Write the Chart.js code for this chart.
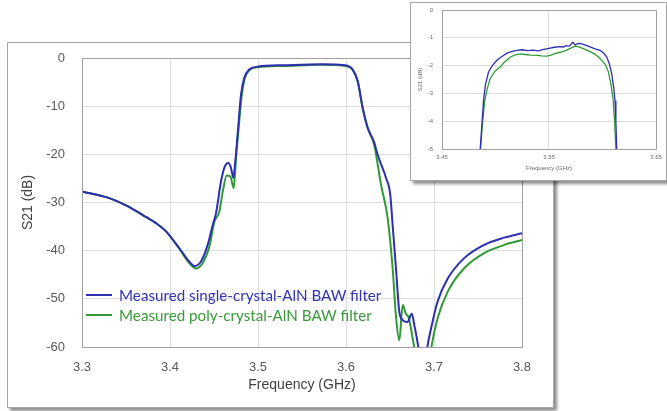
<!DOCTYPE html>
<html>
<head>
<meta charset="utf-8">
<script src="https://cdn.jsdelivr.net/npm/chart.js@4.4.1/dist/chart.umd.min.js"></script>
<style>
  html, body { margin: 0; padding: 0; background: #ffffff; }
  body { width: 667px; height: 411px; position: relative; overflow: hidden; }
  .box { position: absolute; background: #fff; border: 1px solid #a6a6a6; box-shadow: 3px 3px 3px rgba(0,0,0,0.45); }
  #mainBox { left: 7px; top: 42px; width: 545px; height: 364px; }
  #insetBox { left: 410px; top: 2px; width: 255px; height: 177px; }
  canvas { position: absolute; left: 0; top: 0; }
  .leg { position: absolute; font-family: Lato, "Open Sans", sans-serif; font-size: 15.2px; white-space: nowrap; line-height: 20px; }
  .legLine { position: absolute; height: 2px; }
</style>
</head>
<body>
<div class="box" id="mainBox"><canvas id="mainChart" width="545" height="364"></canvas></div>
<div class="box" id="insetBox"><canvas id="insetChart" width="255" height="177"></canvas></div>
<div class="legLine" id="leg1Line" style="left:86px; top:294px; width:26px; background:#2e2eb0;"></div>
<div class="leg" id="leg1" style="left:119px; top:285px; color:#3333b3;"></div>
<div class="legLine" id="leg2Line" style="left:86px; top:314px; width:26px; background:#2f9a35;"></div>
<div class="leg" id="leg2" style="left:119px; top:305px; color:#3a9a3a;"></div>
<script>
// ---------- DATA ----------
const seriesNames = ['Measured single-crystal-AlN BAW filter', 'Measured poly-crystal-AlN BAW filter'];

const mainFreqSingle = [3.300,3.331,3.350,3.369,3.385,3.3955,3.4106,3.422,3.4276,3.435,3.4428,3.4485,3.4523,3.458,3.4617,3.4663,3.4693,3.472,3.4742,3.477,3.4807,3.4844,3.490,3.4996,3.530,3.5716,3.598,3.6076,3.6133,3.619,3.6247,3.632,3.636,3.6455,3.6503,3.653,3.6568,3.6606,3.6644,3.670,3.6747,3.6777,3.6822,3.687,3.692,3.6966,3.704,3.7156,3.734,3.757,3.780,3.800];
const mainS21Single  = [-27.7,-29.1,-30.6,-32.6,-34.4,-36.0,-39.5,-42.3,-43.2,-42.3,-38.8,-34.7,-32.2,-25.6,-22.8,-21.8,-22.8,-24.9,-21.5,-15.5,-7.6,-4.1,-2.4,-1.8,-1.5,-1.3,-1.5,-2.4,-4.8,-10.4,-14.5,-17.5,-20.1,-24.9,-28.4,-34.7,-43.7,-52.7,-54.4,-54.8,-53.1,-55.5,-60.1,-68,-60.5,-56.2,-50.6,-45.8,-41.6,-38.8,-37.3,-36.4];

const mainFreqPoly = [3.300,3.331,3.350,3.369,3.385,3.3955,3.4106,3.422,3.4295,3.437,3.4447,3.4504,3.456,3.460,3.4644,3.4686,3.4724,3.475,3.478,3.4815,3.485,3.4905,3.500,3.530,3.5716,3.598,3.6076,3.6133,3.619,3.6247,3.632,3.6398,3.6474,3.653,3.657,3.6606,3.6644,3.668,3.671,3.6795,3.690,3.6966,3.704,3.7156,3.734,3.757,3.780,3.800];
const mainS21Poly  = [-27.7,-29.1,-30.6,-32.6,-34.4,-36.0,-39.6,-42.6,-43.7,-42.6,-39.2,-34.0,-31.9,-27.7,-24.4,-24.6,-27.0,-20.8,-14.5,-7.8,-4.2,-2.5,-1.9,-1.65,-1.4,-1.6,-2.5,-4.9,-10.5,-14.6,-18.0,-26.3,-33.3,-43.7,-54.1,-58.6,-51.3,-53.1,-53.8,-62,-70,-60.5,-54.1,-48.5,-43.7,-40.5,-38.8,-37.8];

const insetFreqSingle = [3.4850,3.4857,3.4875,3.4888,3.4905,3.4935,3.497,3.5013,3.505,3.5107,3.515,3.520,3.525,3.530,3.535,3.540,3.545,3.550,3.555,3.560,3.5635,3.566,3.569,3.5722,3.5745,3.577,3.580,3.584,3.5884,3.593,3.5977,3.601,3.604,3.6065,3.6086,3.6105,3.6117,3.6125,3.6133,3.614];
const insetS21Single  = [-6.0,-5.0,-4.0,-3.26,-2.7,-2.23,-2.0,-1.81,-1.7,-1.55,-1.5,-1.45,-1.43,-1.46,-1.44,-1.47,-1.42,-1.38,-1.34,-1.32,-1.33,-1.28,-1.30,-1.16,-1.26,-1.20,-1.21,-1.26,-1.33,-1.40,-1.45,-1.55,-1.69,-1.95,-2.29,-2.8,-3.26,-4.0,-5.0,-6.0];

const insetFreqPoly = [3.4853,3.486,3.488,3.490,3.4925,3.495,3.4995,3.5044,3.509,3.5137,3.518,3.523,3.528,3.533,3.5387,3.543,3.548,3.552,3.556,3.5604,3.565,3.570,3.5744,3.578,3.582,3.587,3.5915,3.596,3.5993,3.603,3.6055,3.608,3.610,3.6113,3.6125,3.6132];
const insetS21Poly  = [-6.0,-5.0,-4.0,-3.26,-2.8,-2.47,-2.2,-2.05,-1.85,-1.7,-1.62,-1.58,-1.6,-1.62,-1.63,-1.65,-1.66,-1.62,-1.56,-1.52,-1.47,-1.38,-1.30,-1.33,-1.39,-1.47,-1.56,-1.68,-1.81,-1.98,-2.23,-2.7,-3.26,-4.0,-5.0,-6.0];

const mainXTicks = [3.3, 3.4, 3.5, 3.6, 3.7, 3.8];
const mainYTicks = [-60, -50, -40, -30, -20, -10, 0];
const insetXTicks = [3.45, 3.55, 3.65];
const insetXTickLabels = ['3.45', '3.55', '3.65'];
const insetYTicks = [-5, -4, -3, -2, -1, 0];

const axisTitleX = 'Frequency (GHz)';
const axisTitleY = 'S21 (dB)';

const colSingle = '#2e2eb0';
const colPoly = '#2f9a35';

// ---------- HELPERS ----------
function pts(xs, ys) { return xs.map((x, i) => ({ x: x, y: ys[i] })); }

const frame = {
  id: 'frame',
  afterDatasetsDraw(chart, args, opts) {
    const a = chart.chartArea, c = chart.ctx;
    c.save();
    c.strokeStyle = opts.color || '#9a9a9a';
    c.lineWidth = opts.width || 1;
    c.strokeRect(Math.round(a.left) + 0.5, Math.round(a.top) + 0.5, Math.round(a.right - a.left), Math.round(a.bottom - a.top));
    c.restore();
  }
};

document.getElementById('leg1').textContent = seriesNames[0];
document.getElementById('leg2').textContent = seriesNames[1];

// ---------- MAIN CHART ----------
new Chart(document.getElementById('mainChart'), {
  type: 'line',
  data: {
    datasets: [
      { label: seriesNames[0], data: pts(mainFreqSingle, mainS21Single), borderColor: colSingle, borderWidth: 2, pointRadius: 0, cubicInterpolationMode: 'monotone' },
      { label: seriesNames[1], data: pts(mainFreqPoly, mainS21Poly), borderColor: colPoly, borderWidth: 2, pointRadius: 0, cubicInterpolationMode: 'monotone' }
    ]
  },
  options: {
    responsive: false, animation: false,
    layout: { padding: { top: 15, right: 31, left: 0, bottom: 0 } },
    plugins: { legend: { display: false }, tooltip: { enabled: false }, frame: { color: '#a0a0a0', width: 1 } },
    scales: {
      x: {
        type: 'linear', min: 3.3, max: 3.8,
        afterBuildTicks: s => { s.ticks = mainXTicks.map(v => ({ value: v })); },
        afterFit: s => { s.height = 60; s.paddingLeft = 0; s.paddingRight = 0; },
        grid: { color: '#dcdcdc', drawTicks: false },
        border: { display: false },
        ticks: { padding: 13, color: '#595959', font: { family: 'Liberation Sans, Arial', size: 13 }, callback: v => v.toFixed(1) },
        title: { display: true, text: axisTitleX, color: '#404040', font: { family: 'Liberation Sans, Arial', size: 14 }, padding: { top: 0, bottom: 13 } }
      },
      y: {
        type: 'linear', min: -60, max: 0,
        afterBuildTicks: s => { s.ticks = mainYTicks.map(v => ({ value: v })); },
        afterFit: s => { s.width = 74; s.paddingTop = 0; s.paddingBottom = 0; },
        grid: { color: '#dcdcdc', drawTicks: false },
        border: { display: false },
        ticks: { padding: 17, color: '#595959', font: { family: 'Liberation Sans, Arial', size: 13 } },
        title: { display: true, text: axisTitleY, color: '#404040', font: { family: 'Liberation Sans, Arial', size: 14 }, padding: { top: 12, bottom: 0 } }
      }
    }
  },
  plugins: [frame]
});

// ---------- INSET CHART ----------
new Chart(document.getElementById('insetChart'), {
  type: 'line',
  data: {
    datasets: [
      { label: seriesNames[0], data: pts(insetFreqSingle, insetS21Single), borderColor: colSingle, borderWidth: 1.3, pointRadius: 0, tension: 0 },
      { label: seriesNames[1], data: pts(insetFreqPoly, insetS21Poly), borderColor: colPoly, borderWidth: 1.3, pointRadius: 0, tension: 0 }
    ]
  },
  options: {
    responsive: false, animation: false,
    layout: { padding: { top: 7, right: 10, left: 0, bottom: 0 } },
    plugins: { legend: { display: false }, tooltip: { enabled: false }, frame: { color: '#a0a0a0', width: 1 } },
    scales: {
      x: {
        type: 'linear', min: 3.45, max: 3.65,
        afterBuildTicks: s => { s.ticks = insetXTicks.map(v => ({ value: v })); },
        afterFit: s => { s.height = 31; s.paddingLeft = 0; s.paddingRight = 0; },
        grid: { color: '#dcdcdc', drawTicks: false },
        border: { display: false },
        ticks: { padding: 5, color: '#6a6a6a', font: { family: 'Liberation Sans, Arial', size: 6 }, callback: (v, i) => insetXTickLabels[i] },
        title: { display: true, text: axisTitleX, color: '#6a6a6a', font: { family: 'Liberation Sans, Arial', size: 6 }, padding: { top: 0, bottom: 8 } }
      },
      y: {
        type: 'linear', min: -5, max: 0,
        afterBuildTicks: s => { s.ticks = insetYTicks.map(v => ({ value: v })); },
        afterFit: s => { s.width = 31; s.paddingTop = 0; s.paddingBottom = 0; },
        grid: { color: '#dcdcdc', drawTicks: false },
        border: { display: false },
        ticks: { padding: 9, color: '#6a6a6a', font: { family: 'Liberation Sans, Arial', size: 6 } },
        title: { display: true, text: axisTitleY, color: '#6a6a6a', font: { family: 'Liberation Sans, Arial', size: 6 }, padding: { top: 6, bottom: 0 } }
      }
    }
  },
  plugins: [frame]
});
</script>
</body>
</html>
